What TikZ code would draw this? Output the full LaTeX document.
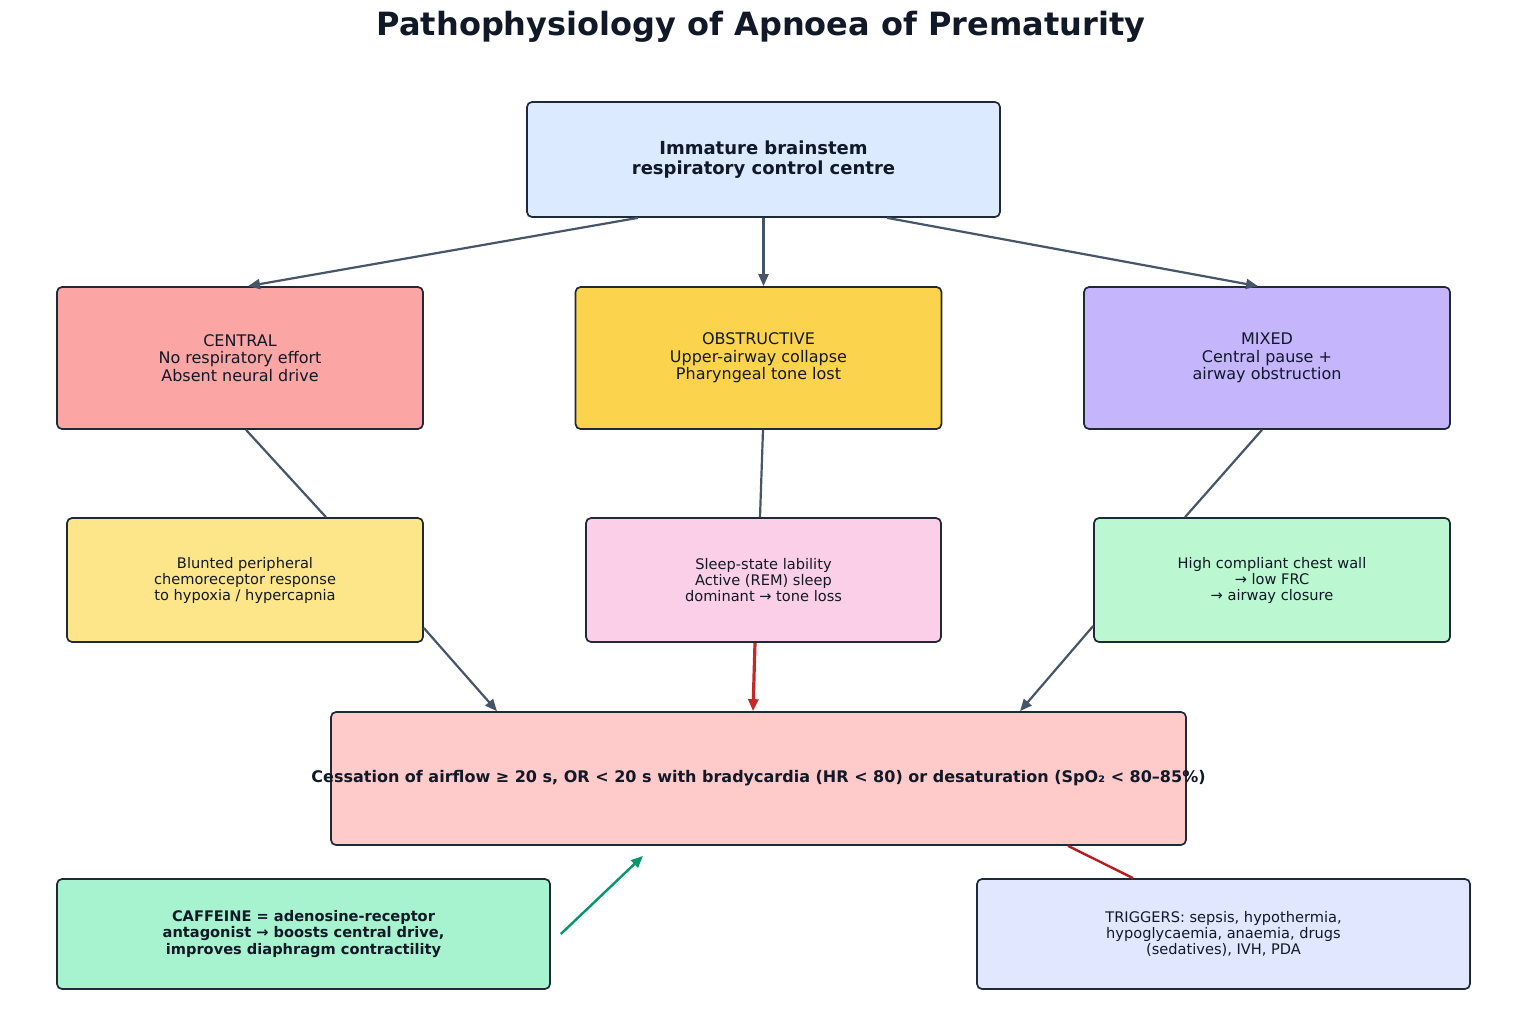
\documentclass[tikz,border=0pt]{standalone}
\usepackage{fontspec}
\setmainfont{DejaVu Sans}
\usetikzlibrary{arrows.meta}
\definecolor{mInk}{HTML}{111827}
\definecolor{mEdge}{HTML}{1F2937}
\definecolor{mSlate}{HTML}{475569}
\definecolor{mRed}{HTML}{C62828}
\definecolor{mDarkRed}{HTML}{B91C1C}
\definecolor{mGreen}{HTML}{059669}
\definecolor{fTop}{HTML}{DBEAFE}
\definecolor{fCentral}{HTML}{FCA5A5}
\definecolor{fObst}{HTML}{FCD34D}
\definecolor{fMixed}{HTML}{C4B5FD}
\definecolor{fBlunt}{HTML}{FDE68A}
\definecolor{fSleep}{HTML}{FBCFE8}
\definecolor{fChest}{HTML}{BBF7D0}
\definecolor{fCess}{HTML}{FECACA}
\definecolor{fCaff}{HTML}{A7F3D0}
\definecolor{fTrig}{HTML}{E0E7FF}

\begin{document}
\begin{tikzpicture}[
  x=1pt, y=-1pt,
  every node/.style={align=center, text=mInk},
  box/.style={
    draw=mEdge,
    line width=1.7pt,
    rounded corners=5pt,
    inner sep=4pt
  },
  typebox/.style={
    box,
    minimum width=366pt,
    minimum height=142pt,
    font=\fontsize{16}{17.5}\selectfont
  },
  causebox/.style={
    box,
    minimum width=356pt,
    minimum height=124pt,
    font=\fontsize{14.6}{16}\selectfont
  },
  footbox/.style={
    box,
    minimum width=493pt,
    minimum height=110pt,
    font=\fontsize{14.6}{16.3}\selectfont
  },
  link/.style={draw=mSlate, line width=2.2pt, -{Triangle[length=12pt,width=10pt]}},
  plain/.style={draw=mSlate, line width=2.2pt}
]

\useasboundingbox (0,0) rectangle (1523,1011);

\node[font=\fontsize{32}{36}\selectfont\bfseries] (title) at (761,27)
{Pathophysiology of Apnoea of Prematurity};

\node[box, fill=fTop, minimum width=473pt, minimum height=115pt,
  font=\fontsize{18}{20}\selectfont\bfseries] (top) at (763.5,159.5)
{Immature brainstem\\respiratory control centre};

\node[typebox, fill=fCentral] (central) at (240,358)
{CENTRAL\\No respiratory effort\\Absent neural drive};
\node[typebox, fill=fObst] (obst) at (758.5,358)
{OBSTRUCTIVE\\Upper-airway collapse\\Pharyngeal tone lost};
\node[typebox, fill=fMixed] (mixed) at (1267,358)
{MIXED\\Central pause +\\airway obstruction};

\node[causebox, fill=fBlunt] (blunt) at (245,580)
{Blunted peripheral\\chemoreceptor response\\to hypoxia / hypercapnia};
\node[causebox, fill=fSleep, minimum width=355pt] (sleep) at (763.5,580)
{Sleep-state lability\\Active (REM) sleep\\dominant → tone loss};
\node[causebox, fill=fChest] (chest) at (1272,580)
{High compliant chest wall\\→ low FRC\\→ airway closure};

\node[box, fill=fCess, minimum width=855pt, minimum height=133pt,
  font=\fontsize{16}{18}\selectfont\bfseries] (cess) at (758.5,778.5)
{\makebox[0pt]{Cessation of airflow ≥ 20 s, OR < 20 s with bradycardia (HR < 80) or desaturation (SpO₂ < 80–85\%)}};

\node[footbox, fill=fCaff, font=\fontsize{14.6}{16.3}\selectfont\bfseries] (caff) at (303.5,934)
{CAFFEINE = adenosine-receptor\\antagonist → boosts central drive,\\improves diaphragm contractility};
\node[footbox, fill=fTrig] (trig) at (1223.5,934)
{TRIGGERS: sepsis, hypothermia,\\hypoglycaemia, anaemia, drugs\\(sedatives), IVH, PDA};

% brainstem to the three types
\draw[link] ([xshift=-125.5]top.south) -- ([xshift=8]central.north);
\draw[link] (top.south) -- (top.south |- obst.north);
\draw[link] ([xshift=123.5]top.south) -- ([xshift=-9]mixed.north);

% types to mechanisms
\draw[plain] ([xshift=6]central.south) -- ([xshift=81]blunt.north);
\draw[plain] ([xshift=4.5]obst.south) -- ([xshift=-3.5]sleep.north);
\draw[plain] ([xshift=-5]mixed.south) -- ([xshift=-87]chest.north);

% mechanisms to definition
\draw[link] ([yshift=-48]blunt.east) -- ([xshift=-261.5]cess.north);
\draw[link, draw=mRed, fill=mRed, line width=3.2pt] ([xshift=-8.5]sleep.south) -- ([xshift=-5.5]cess.north);
\draw[link] ([yshift=-46]chest.west) -- ([xshift=261.5]cess.north);

% treatment and triggers
\draw[draw=mGreen, line width=2.4pt, -{Triangle[length=12pt,width=10pt]}]
  ([xshift=10]caff.east) -- ([xshift=-115.5,yshift=-10]cess.south);
\draw[draw=mDarkRed, line width=2.4pt] ([xshift=-90.5]trig.north) -- ([xshift=309.5]cess.south);

\end{tikzpicture}
\end{document}
